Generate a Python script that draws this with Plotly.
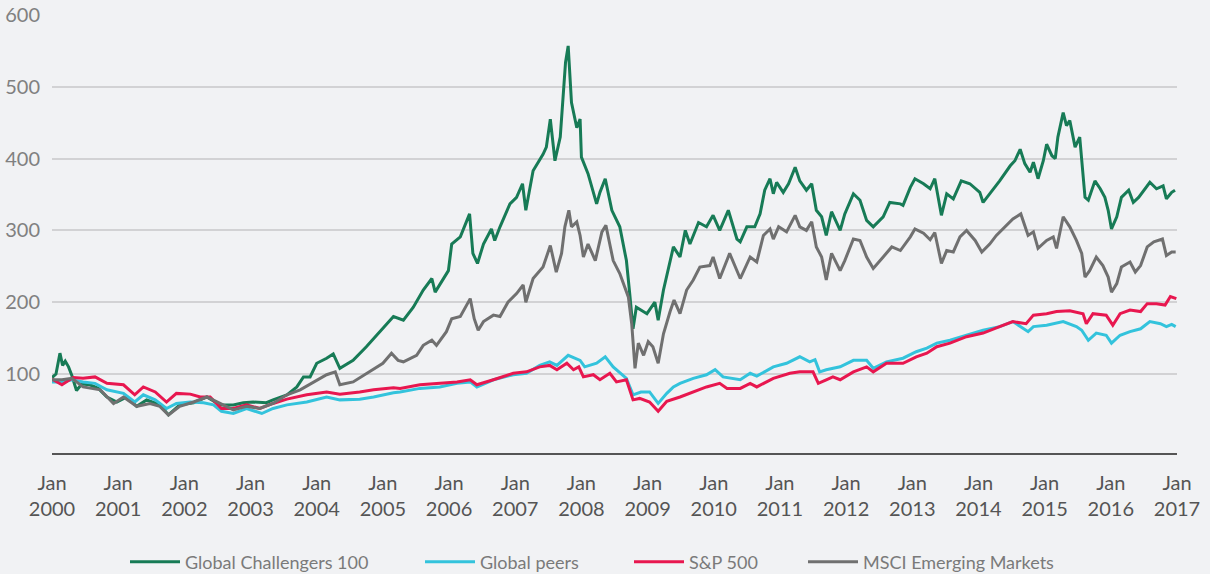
import plotly.graph_objects as go

# ---- data (decimal years, index values) ----
years = list(range(2000, 2018))
year_labels = ["Jan<br>%d" % y for y in years]
y_ticks = [100, 200, 300, 400, 500, 600]

gc_t = [0.00, 0.06, 0.12, 0.16, 0.20, 0.25, 0.30, 0.37, 0.45, 0.57, 0.70, 0.83, 0.98, 1.13, 1.28, 1.43, 1.63, 1.76,
        1.93, 2.14, 2.34, 2.54, 2.74, 2.89, 3.04, 3.24, 3.34, 3.55, 3.70, 3.80, 3.90, 4.00, 4.15, 4.25, 4.35, 4.55,
        4.75, 4.96, 5.16, 5.31, 5.46, 5.61, 5.74, 5.79, 5.99, 6.04, 6.17, 6.31, 6.36, 6.43, 6.52, 6.64, 6.69, 6.77,
        6.92, 7.02, 7.11, 7.16, 7.27, 7.42, 7.47, 7.53, 7.60, 7.68, 7.72, 7.76, 7.80, 7.83, 7.85, 7.93, 7.98, 8.00,
        8.10, 8.23, 8.28, 8.36, 8.46, 8.58, 8.68, 8.73, 8.78, 8.83, 8.99, 9.11, 9.16, 9.24, 9.39, 9.49, 9.57, 9.64,
        9.77, 9.89, 9.99, 10.09, 10.22, 10.35, 10.40, 10.50, 10.62, 10.70, 10.77, 10.85, 10.90, 10.95, 11.05, 11.13,
        11.23, 11.30, 11.40, 11.48, 11.55, 11.63, 11.70, 11.78, 11.91, 11.98, 12.11, 12.21, 12.31, 12.41, 12.56,
        12.66, 12.82, 12.86, 12.97, 13.04, 13.17, 13.27, 13.34, 13.44, 13.52, 13.62, 13.74, 13.87, 14.02, 14.07,
        14.17, 14.32, 14.48, 14.55, 14.63, 14.70, 14.78, 14.83, 14.90, 14.98, 15.03, 15.11, 15.16, 15.20, 15.28,
        15.33, 15.38, 15.46, 15.53, 15.56, 15.61, 15.66, 15.76, 15.84, 15.91, 15.96, 16.01, 16.09, 16.16, 16.27,
        16.34, 16.42, 16.52, 16.59, 16.69, 16.79, 16.84, 16.92, 16.97]
gc_v = [95, 100, 129, 112, 118, 110, 98, 77, 86, 85, 80, 68, 61, 68, 55, 64, 57, 43,
        57, 60, 68, 57, 57, 60, 61, 60, 64, 71, 82, 96, 96, 115, 122, 128, 108, 119,
        138, 159, 180, 175, 193, 217, 233, 214, 244, 281, 291, 323, 268, 254, 281, 302, 286, 305,
        337, 346, 365, 328, 383, 406, 416, 455, 397, 430, 481, 534, 557, 504, 478, 443, 455, 402,
        379, 337, 353, 372, 328, 305, 258, 212, 163, 193, 184, 200, 175, 217, 277, 263, 300, 281,
        311, 305, 321, 300, 328, 288, 284, 305, 305, 323, 356, 372, 351, 367, 353, 365,
        388, 369, 356, 365, 328, 319, 293, 326, 300, 323, 351, 342, 314, 305, 319,
        339, 337, 335, 360, 372, 365, 358, 372, 321, 351, 344, 369, 365, 353, 339,
        351, 369, 390, 397, 413, 393, 381, 395, 372, 397, 420, 404, 400, 430, 464,
        446, 453, 416, 430, 400, 346, 342, 369, 358, 346, 328, 302, 319, 346, 356,
        339, 346, 358, 367, 358, 362, 344, 353, 356]

gp_t = [0.00, 0.15, 0.30, 0.47, 0.65, 0.83, 1.08, 1.25, 1.38, 1.56, 1.73, 1.88, 2.09, 2.29, 2.44, 2.56, 2.74, 2.94,
        3.17, 3.34, 3.55, 3.85, 4.15, 4.35, 4.65, 4.86, 5.16, 5.26, 5.56, 5.86, 6.12, 6.32, 6.42, 6.67, 6.97, 7.17,
        7.37, 7.52, 7.63, 7.80, 7.98, 8.05, 8.23, 8.36, 8.48, 8.68, 8.78, 8.90, 9.03, 9.16, 9.29, 9.39, 9.49, 9.69,
        9.89, 10.02, 10.14, 10.40, 10.55, 10.65, 10.90, 11.10, 11.30, 11.45, 11.53, 11.60, 11.70, 11.91, 12.11,
        12.31, 12.41, 12.61, 12.86, 13.06, 13.22, 13.37, 13.57, 13.82, 14.07, 14.32, 14.52, 14.75, 14.83, 15.03,
        15.28, 15.48, 15.56, 15.66, 15.78, 15.93, 16.01, 16.14, 16.29, 16.45, 16.59, 16.75, 16.84, 16.92, 16.98]
gp_v = [89, 89, 92, 89, 87, 78, 73, 61, 71, 64, 52, 59, 61, 60, 57, 48, 45, 52,
        45, 52, 57, 61, 68, 64, 65, 68, 74, 75, 80, 82, 87, 89, 82, 92, 99, 101,
        112, 117, 112, 126, 119, 110, 115, 124, 110, 94, 71, 75, 75, 59, 73, 82, 87, 94,
        99, 106, 96, 92, 101, 97, 110, 115, 124, 117, 120, 103, 106, 110, 119,
        119, 108, 117, 122, 131, 136, 143, 147, 154, 161, 166, 173, 159, 166, 168,
        173, 166, 161, 147, 157, 154, 143, 154, 159, 163, 173, 170, 166, 169, 166]

sp_t = [0.00, 0.15, 0.32, 0.47, 0.65, 0.83, 1.08, 1.25, 1.38, 1.56, 1.73, 1.88, 2.09, 2.24, 2.39, 2.56, 2.74, 2.94,
        3.14, 3.34, 3.55, 3.85, 4.15, 4.35, 4.65, 4.86, 5.16, 5.26, 5.56, 5.86, 6.12, 6.32, 6.42, 6.67, 6.97, 7.17,
        7.37, 7.52, 7.63, 7.78, 7.88, 7.96, 8.03, 8.18, 8.28, 8.43, 8.53, 8.68, 8.78, 8.88, 9.03, 9.16, 9.29, 9.49,
        9.69, 9.89, 10.09, 10.20, 10.40, 10.55, 10.65, 10.90, 11.15, 11.30, 11.50, 11.58, 11.70, 11.80, 11.91,
        12.11, 12.31, 12.41, 12.61, 12.86, 13.06, 13.22, 13.37, 13.57, 13.82, 14.07, 14.32, 14.52, 14.72, 14.83,
        15.03, 15.18, 15.38, 15.58, 15.63, 15.73, 15.93, 16.03, 16.14, 16.29, 16.45, 16.55, 16.69, 16.82, 16.90, 16.99]
sp_v = [93, 85, 95, 94, 96, 87, 85, 71, 82, 75, 61, 73, 72, 68, 68, 52, 52, 57,
        52, 59, 65, 71, 75, 72, 75, 78, 81, 80, 85, 87, 89, 92, 85, 92, 101, 103,
        110, 112, 106, 115, 106, 110, 96, 99, 92, 101, 89, 92, 64, 66, 61, 48, 62, 68,
        75, 82, 87, 80, 80, 87, 82, 94, 101, 103, 103, 87, 92, 96, 92,
        103, 110, 103, 115, 115, 124, 129, 138, 143, 152, 157, 166, 173, 170, 182,
        184, 187, 188, 184, 170, 184, 182, 168, 184, 189, 187, 198, 198, 196, 208, 205]

em_t = [0.00, 0.15, 0.30, 0.47, 0.73, 0.93, 1.08, 1.28, 1.48, 1.63, 1.76, 1.93, 2.14, 2.34, 2.54, 2.74, 2.94, 3.14,
        3.34, 3.55, 3.75, 3.95, 4.15, 4.28, 4.35, 4.55, 4.80, 5.00, 5.13, 5.23, 5.31, 5.51, 5.61, 5.74, 5.81, 5.96,
        6.04, 6.17, 6.32, 6.38, 6.44, 6.52, 6.67, 6.77, 6.89, 7.02, 7.12, 7.16, 7.27, 7.42, 7.53, 7.62, 7.70, 7.75,
        7.81, 7.85, 7.93, 7.98, 8.03, 8.10, 8.21, 8.31, 8.37, 8.48, 8.58, 8.71, 8.76, 8.81, 8.86, 8.94, 9.01, 9.08,
        9.16, 9.24, 9.34, 9.40, 9.49, 9.59, 9.69, 9.79, 9.94, 9.99, 10.09, 10.24, 10.40, 10.55, 10.65, 10.75, 10.85,
        10.90, 10.98, 11.10, 11.23, 11.30, 11.40, 11.48, 11.55, 11.63, 11.70, 11.78, 11.91, 11.98, 12.11, 12.21,
        12.31, 12.41, 12.56, 12.69, 12.82, 12.97, 13.04, 13.17, 13.27, 13.34, 13.44, 13.52, 13.62, 13.72, 13.82,
        13.95, 14.05, 14.17, 14.27, 14.42, 14.52, 14.64, 14.75, 14.83, 14.90, 15.03, 15.13, 15.18, 15.28, 15.38,
        15.48, 15.56, 15.61, 15.68, 15.78, 15.88, 15.96, 16.01, 16.09, 16.16, 16.29, 16.37, 16.45, 16.55, 16.65,
        16.78, 16.84, 16.92, 16.98]
em_v = [92, 92, 94, 82, 78, 59, 68, 55, 59, 55, 43, 55, 61, 68, 59, 50, 55, 52,
        59, 71, 78, 89, 99, 103, 85, 89, 103, 115, 129, 119, 117, 126, 140, 147, 140, 159,
        177, 180, 205, 177, 161, 173, 182, 180, 200, 212, 224, 200, 233, 249, 279, 242, 268, 305,
        328, 305, 312, 293, 263, 281, 258, 298, 307, 258, 240, 207, 170, 108, 143, 126, 145, 138,
        115, 156, 187, 203, 184, 217, 231, 249, 251, 263, 233, 268, 233, 263, 256, 293, 302,
        288, 305, 298, 321, 305, 300, 312, 277, 263, 231, 268, 244, 258, 288, 286,
        263, 247, 263, 277, 272, 291, 302, 296, 287, 297, 254, 272, 270, 291, 300,
        286, 270, 281, 293, 307, 316, 323, 293, 298, 275, 286, 291, 275, 319, 305,
        286, 268, 235, 244, 263, 251, 235, 214, 226, 249, 256, 242, 251, 277, 284,
        288, 265, 270, 270]

series = [
    ("Global Challengers 100", gc_t, gc_v, "#177b56"),
    ("Global peers", gp_t, gp_v, "#33c3dc"),
    ("S&P 500", sp_t, sp_v, "#e8174f"),
    ("MSCI Emerging Markets", em_t, em_v, "#707070"),
]
# left edge (px) of each legend entry's line swatch
legend_left_px = [130, 425, 634, 808]

W, H = 1210, 574
fig = go.Figure()
legend_layout = {}
for i, (name, ts, vs, col) in enumerate(series):
    lname = "legend" if i == 0 else "legend%d" % (i + 1)
    fig.add_trace(go.Scatter(x=[2000 + t for t in ts], y=vs, mode="lines", name=name,
                             line=dict(color=col, width=3), legend=lname))
    legend_layout[lname] = dict(
        orientation="h", xref="container", yref="container",
        x=(legend_left_px[i] - 5) / W, xanchor="left",
        y=(H - 562) / H, yanchor="middle",
        font=dict(size=18, color="#7a7a7a"), itemwidth=50,
        bgcolor="rgba(0,0,0,0)", borderwidth=0,
    )

bg = "#f1f2f4"
fig.update_layout(
    width=W, height=H,
    paper_bgcolor=bg, plot_bgcolor=bg,
    margin=dict(l=52, r=33, t=15, b=121, autoexpand=False),
    font=dict(family="Lato, sans-serif", color="#777777"),
    showlegend=True,
    xaxis=dict(range=[2000, 2017], tickmode="array", tickvals=years, ticktext=year_labels,
               showgrid=False, zeroline=False, showline=True, linecolor="#555555", linewidth=1.5,
               ticks="", tickfont=dict(size=20, color="#555555"), ticklabelstandoff=11),
    yaxis=dict(range=[-10, 600], tickmode="array", tickvals=y_ticks,
               showgrid=True, gridcolor="#d2d2d4", gridwidth=1.5, zeroline=False,
               showline=False, ticks="", tickfont=dict(size=20, color="#808080"),
               ticklabelstandoff=11),
    **legend_layout,
)

fig.write_html("out.html", config={"displayModeBar": False},
               post_script="document.body.style.margin='0';document.body.style.overflow='hidden';")
